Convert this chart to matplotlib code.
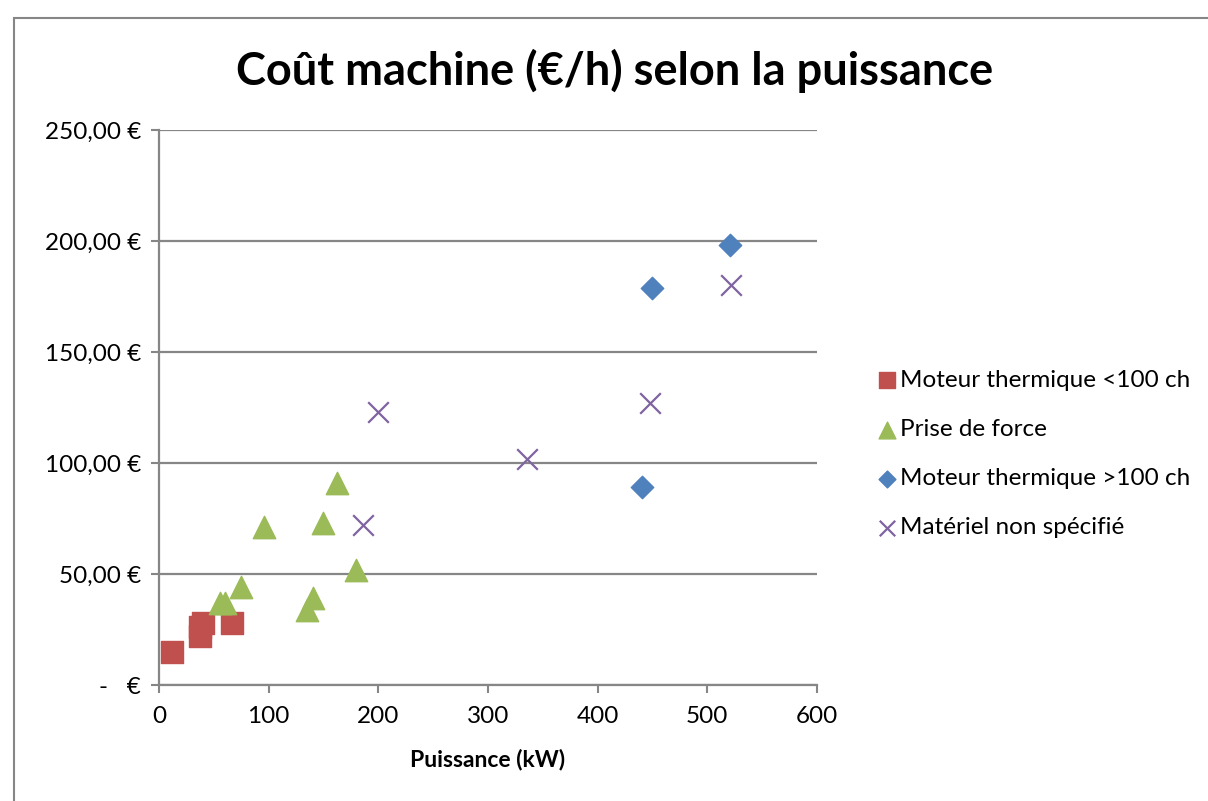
import matplotlib.pyplot as plt
from matplotlib.patches import Rectangle

plt.rcParams['font.family'] = ['Lato', 'DejaVu Sans']

# Données (puissance kW, coût €/h)
moteur_petit_x = [12, 37, 37, 40, 67]
moteur_petit_y = [15, 22, 26, 28, 28]

prise_force_x = [56, 60, 75, 96, 135, 140, 150, 162, 180]
prise_force_y = [37, 37, 44, 71, 34, 39, 73, 91, 52]

moteur_grand_x = [440, 450, 521]
moteur_grand_y = [89, 179, 198]

non_specifie_x = [186, 200, 336, 448, 522]
non_specifie_y = [72, 123, 102, 127, 180]

y_ticks = [0, 50, 100, 150, 200, 250]
y_labels = ['-   €', '50,00 €', '100,00 €', '150,00 €', '200,00 €', '250,00 €']
x_ticks = [0, 100, 200, 300, 400, 500, 600]

fig = plt.figure(figsize=(12.08, 8.01), dpi=100)
ax = fig.add_axes([0.1316, 0.1448, 0.5447, 0.6929])

grid_col = '#868686'
ax.scatter(moteur_petit_x, moteur_petit_y, marker='s', s=230, color='#C0504D',
           label='Moteur thermique <100 ch', zorder=3)
ax.scatter(prise_force_x, prise_force_y, marker='^', s=260, color='#9BBB59',
           label='Prise de force', zorder=3)
ax.scatter(moteur_grand_x, moteur_grand_y, marker='D', s=130, color='#4F81BD',
           label='Moteur thermique >100 ch', zorder=3)
ax.scatter(non_specifie_x, non_specifie_y, marker='x', s=220, color='#8064A2',
           linewidths=1.6, label='Matériel non spécifié', zorder=3)

ax.set_xlim(0, 600)
ax.set_ylim(0, 250)
ax.set_xticks(x_ticks)
ax.set_yticks(y_ticks)
ax.set_yticklabels(y_labels)
ax.tick_params(axis='both', labelsize=17.5, color=grid_col, width=1.5, length=6,
               direction='out')
ax.tick_params(axis='x', pad=9)
ax.tick_params(axis='y', pad=7)
ax.grid(axis='y', color=grid_col, linewidth=1.6)
ax.set_axisbelow(True)
for side in ['top', 'right']:
    ax.spines[side].set_visible(False)
for side in ['left', 'bottom']:
    ax.spines[side].set_color(grid_col)
    ax.spines[side].set_linewidth(1.6)

ax.set_xlabel('Puissance (kW)', fontsize=16.5, fontweight='bold', labelpad=16)
fig.text(0.509, 0.912, 'Coût machine (€/h) selon la puissance', ha='center',
         va='center', fontsize=32.5, fontweight='bold')

ax.legend(loc='center left', bbox_to_anchor=(1.073, 0.416), frameon=False,
          fontsize=17.5, handletextpad=0.05, labelspacing=1.16, handlelength=1.0,
          markerscale=0.75, borderaxespad=0)

fig.patches.append(Rectangle((0.0116, -0.01), 1.1, 0.988, transform=fig.transFigure,
                             fill=False, edgecolor=grid_col, linewidth=1.5))

plt.savefig('out.png')
